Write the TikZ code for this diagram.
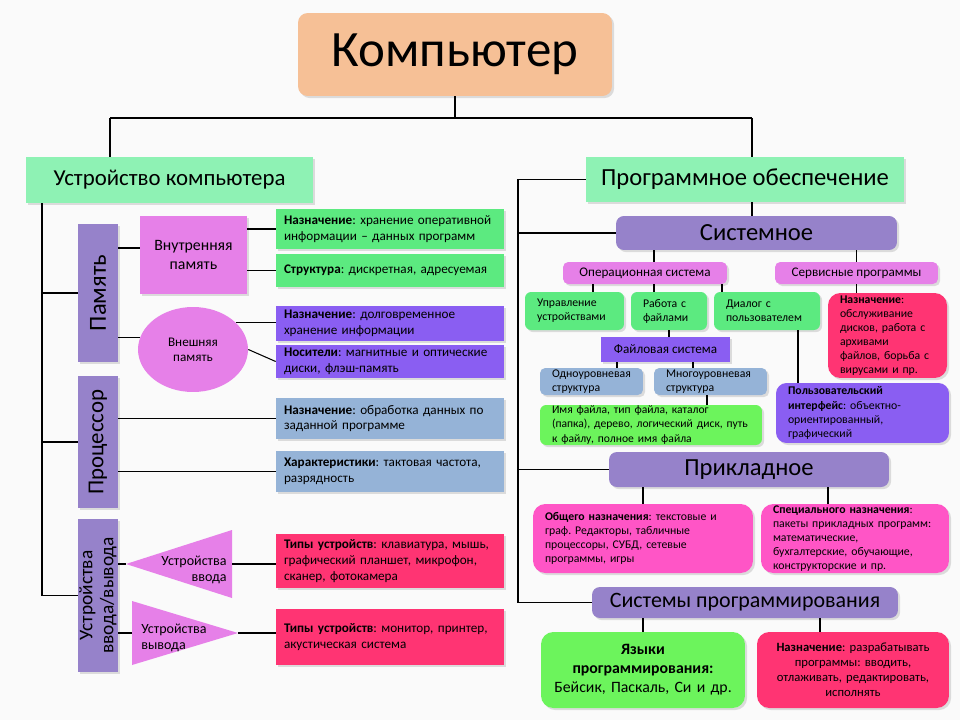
\documentclass[tikz,border=0pt]{standalone}
\usepackage{fontspec}
\setmainfont{Carlito}
\usetikzlibrary{shapes.geometric,shadows}
\frenchspacing

\definecolor{paper}{RGB}{250,250,250}
\definecolor{peach}{RGB}{246,192,150}
\definecolor{mint}{RGB}{142,242,180}
\definecolor{lilac}{RGB}{150,130,202}
\definecolor{orchid}{RGB}{230,128,232}
\definecolor{leaf}{RGB}{92,234,128}
\definecolor{lime}{RGB}{108,244,92}
\definecolor{violet}{RGB}{138,94,242}
\definecolor{steel}{RGB}{149,179,215}
\definecolor{crimson}{RGB}{255,52,115}
\definecolor{rose}{RGB}{255,85,198}

\begin{document}
\begin{tikzpicture}[
    x=0.02cm, y=-0.02cm,
    boxshadow/.style={drop shadow={shadow xshift=1.2pt, shadow yshift=-1.2pt, opacity=0.25}},
    title/.style={boxshadow, fill=#1, inner sep=0pt, align=center},
    pillar/.style={boxshadow, fill=lilac, rotate=90, minimum height=0.8cm,
        inner sep=0pt, align=center},
    note/.style={boxshadow, fill=#1, inner xsep=0.16cm, inner ysep=0pt, align=left,
        font=\fontsize{7.5}{9}\selectfont},
    card/.style={boxshadow, fill=#1, inner xsep=0.24cm, inner ysep=0pt, align=left,
        font=\fontsize{6.7}{8}\selectfont},
    link/.style={draw=black, line width=0.6pt},
]

\fill[paper] (0,0) rectangle (960,720);

% ── Root and the two main branches ───────────────────────────
\node[title=peach, rounded corners=5.5pt, minimum width=6.28cm, minimum height=1.66cm,
      font=\fontsize{29}{30}\selectfont] (komp) at (455,54.5) {Компьютер};
\node[title=mint, minimum width=5.74cm, minimum height=0.92cm,
      font=\fontsize{13}{14}\selectfont] (hw) at (169.5,180) {Устройство компьютера};
\node[title=mint, minimum width=6.36cm, minimum height=0.9cm,
      font=\fontsize{14}{15}\selectfont] (sw) at (745,179.5) {Программное обеспечение};

\coordinate (jL) at (110,118);
\coordinate (jR) at (752,118);
\draw[link] (komp.south) -- (komp.south |- jL);
\draw[link] (jL) -- (jR);
\draw[link] (jL) -- (jL |- hw.north);
\draw[link] (jR) -- (jR |- sw.north);

% ── Hardware pillars ─────────────────────────────────────────
\node[pillar, minimum width=2.76cm, font=\fontsize{14}{15}\selectfont] (pam) at (98,293) {Память};
\node[pillar, minimum width=2.64cm, font=\fontsize{13}{14}\selectfont] (proc) at (98,442) {Процессор};
\node[pillar, minimum width=3.06cm, font=\fontsize{11}{12}\selectfont] (io) at (98,595.5) {Устройства\\ввода/вывода};

\coordinate (hwBus) at (42,203);
\draw[link] (hwBus) |- (io.north);
\draw[link] (hwBus |- pam.north) -- (pam.north);
\draw[link] (hwBus |- proc.north) -- (proc.north);

% ── Memory ───────────────────────────────────────────────────
\node[title=orchid, minimum width=2.14cm, minimum height=1.56cm,
      font=\fontsize{9}{10.8}\selectfont] (vnut) at (193.5,255) {Внутренняя\\память};
\node[ellipse, fill=orchid, minimum width=2.2cm, minimum height=1.7cm, inner sep=0pt,
      align=center, font=\fontsize{7.5}{8.5}\selectfont] (vnesh) at (193,349.5) {Внешняя\\память};

\node[note=leaf, text width=4.24cm, minimum height=0.8cm] (g1) at (390,229)
    {\textbf{Назначение}: хранение оперативной\\информации – данных программ};
\node[note=leaf, text width=4.24cm, minimum height=0.66cm] (s1) at (390,270.5)
    {\textbf{Структура}: дискретная, адресуемая};
\node[note=violet, text width=4.24cm, minimum height=0.7cm] (v1) at (390,323.5)
    {\textbf{Назначение}: долговременное\\хранение информации};
\node[note=violet, text width=4.24cm, minimum height=0.66cm] (n1) at (390,361.5)
    {\textbf{Носители}: магнитные и оптические\\диски, флэш-память};

\draw[link] ([yshift=0.14cm]vnut.west) -- ([yshift=0.14cm]vnut.west -| pam.south);
\draw[link] (vnesh.167) -- (vnesh.167 -| pam.south);
\draw[link] (g1.west) -- (g1.west -| vnut.east);
\draw[link] (s1.west) -- (s1.west -| vnut.east);
\draw[link] (vnesh.32) -- (vnesh.32 -| v1.west);
\draw[link] (vnesh.east) -- (n1.west);

% ── Processor ────────────────────────────────────────────────
\node[note=steel, text width=4.24cm, minimum height=0.82cm] (b1) at (390,418.5)
    {\textbf{Назначение}: обработка данных по\\заданной программе};
\node[note=steel, text width=4.24cm, minimum height=0.82cm] (b2) at (390,471.5)
    {\textbf{Характеристики}: тактовая частота,\\разрядность};

\draw[link] (b1.west) -- (b1.west -| proc.south);
\draw[link] (b2.west) -- (b2.west -| proc.south);

% ── Input / output ───────────────────────────────────────────
\coordinate (inTip) at (126,564);
\coordinate (inTop) at (232,530);
\coordinate (inBot) at (232,598);
\fill[orchid] (inTip) -- (inTop) -- (inBot) -- cycle;
\node[anchor=east, align=right, inner sep=0pt, font=\fontsize{8}{9}\selectfont] (inTxt) at (227,570) {Устройства\\ввода};

\coordinate (outTip) at (238,633);
\coordinate (outTop) at (132,601);
\coordinate (outBot) at (132,665);
\fill[orchid] (outTop) -- (outTip) -- (outBot) -- cycle;
\node[anchor=west, align=left, inner sep=0pt, font=\fontsize{8}{9}\selectfont] (outTxt) at (141,638) {Устройства\\вывода};

\node[note=crimson, text width=4.24cm, minimum height=1.08cm] (r1) at (390,561)
    {\textbf{Типы устройств}: клавиатура, мышь,\\графический планшет, микрофон,\\сканер, фотокамера};
\node[note=crimson, text width=4.24cm, minimum height=1.12cm] (r2) at (390,637)
    {\textbf{Типы устройств}: монитор, принтер,\\акустическая система};

\draw[link] (inTip -| io.south) -- (inTip);
\draw[link] (inTip -| inTop) -- (inTip -| r1.west);
\draw[link] (outTip -| io.south) -- (outTip -| outTop);
\draw[link] (outTip) -- (outTip -| r2.west);

% ── Software: system ─────────────────────────────────────────
\node[title=lilac, rounded corners=4.5pt, minimum width=5.62cm, minimum height=0.68cm,
      font=\fontsize{14}{15}\selectfont] (sys) at (756.5,233) {Системное};
\node[title=orchid, rounded corners=3pt, minimum width=3.28cm, minimum height=0.44cm,
      font=\fontsize{7.5}{8}\selectfont] (os) at (645,273) {Операционная система};
\node[title=orchid, rounded corners=3pt, minimum width=3.26cm, minimum height=0.44cm,
      font=\fontsize{7.5}{8}\selectfont] (serv) at (856.5,273) {Сервисные программы};

\node[card=leaf, rounded corners=3.5pt, text width=1.5cm, minimum height=0.76cm] (upr) at (574.5,311) {Управление\\устройствами};
\node[card=leaf, rounded corners=3.5pt, text width=1.04cm, minimum height=0.76cm] (rab) at (669,311) {Работа с\\файлами};
\node[card=leaf, rounded corners=3.5pt, text width=1.64cm, minimum height=0.76cm] (dia) at (767,311) {Диалог с\\пользователем};
\node[card=crimson, rounded corners=7pt, text width=1.9cm, minimum height=1.7cm] (servN) at (887.5,335.5)
    {\textbf{Назначение}:\\обслуживание\\дисков, работа с\\архивами\\файлов, борьба с\\вирусами и пр.};

\node[title=violet, minimum width=2.58cm, minimum height=0.5cm,
      font=\fontsize{7.5}{8}\selectfont] (fs) at (665.5,349.5) {Файловая система};
\node[card=steel, rounded corners=3pt, text width=1.58cm, minimum height=0.54cm] (one) at (591.5,381.5) {Одноуровневая\\структура};
\node[card=steel, rounded corners=3pt, text width=1.78cm, minimum height=0.54cm] (multi) at (710.5,381.5) {Многоуровневая\\структура};
\node[card=lime, rounded corners=3.5pt, text width=3.96cm, minimum height=0.8cm,
      font=\fontsize{6.6}{8}\selectfont] (names) at (651,425)
    {Имя файла, тип файла, каталог\\(папка), дерево, логический диск, путь\\к файлу, полное имя файла};
\node[card=violet, rounded corners=6pt, text width=2.98cm, minimum height=1.2cm] (ui) at (862.5,413)
    {\textbf{Пользовательский}\\\textbf{интерфейс}: объектно-\\ориентированный,\\графический};

% ── Software: applied and programming systems ────────────────
\node[title=lilac, rounded corners=4.5pt, minimum width=5.6cm, minimum height=0.7cm,
      font=\fontsize{14}{15}\selectfont] (appl) at (749,469.5) {Прикладное};
\node[card=rose, rounded corners=7pt, text width=3.92cm, minimum height=1.38cm] (gen) at (643,538.5)
    {\textbf{Общего назначения}: текстовые и\\граф. Редакторы, табличные\\процессоры, СУБД, сетевые\\программы, игры};
\node[card=rose, rounded corners=7pt, text width=3.28cm, minimum height=1.38cm] (spec) at (855,538.5)
    {\textbf{Специального назначения}:\\пакеты прикладных программ:\\математические,\\бухгалтерские, обучающие,\\конструкторские и пр.};

\node[title=lilac, rounded corners=4.5pt, minimum width=6.12cm, minimum height=0.62cm,
      font=\fontsize{12.5}{13}\selectfont] (prsys) at (745,602.5) {Системы программирования};
\node[card=lime, align=center, rounded corners=7pt, text width=3.6cm, minimum height=1.52cm,
      font=\fontsize{9}{10.8}\selectfont] (lang) at (643,670)
    {\textbf{Языки}\\\textbf{программирования:}\\Бейсик, Паскаль, Си и др.};
\node[card=crimson, align=center, rounded corners=7pt, text width=3.36cm, minimum height=1.52cm,
      font=\fontsize{7.2}{8.5}\selectfont] (dev) at (853,670)
    {\textbf{Назначение}: разрабатывать\\программы: вводить,\\отлаживать, редактировать,\\исполнять};

% ── Software connectors ──────────────────────────────────────
\coordinate (swBus) at (518,179.5);
\draw[link] (sw.west) -- (swBus) |- (prsys.west);
\draw[link] (swBus |- sys.west) -- (sys.west);
\draw[link] (swBus |- appl.west) -- (appl.west);
\draw[link] (jR |- sw.south) -- (jR |- sys.north);
\draw[link] ([xshift=0.18cm]os.north) -- ([xshift=0.18cm]os.north |- sys.south);
\draw[link] (serv.north) -- (serv.north |- sys.south);
\draw[link] ([xshift=0.37cm]upr.north) -- ([xshift=0.37cm]upr.north |- os.south);
\draw[link] ([xshift=-0.3cm]rab.north) -- ([xshift=-0.3cm]rab.north |- os.south);
\draw[link] ([xshift=-0.9cm]dia.north) -- ([xshift=-0.9cm]dia.north |- os.south);
\draw[link] (serv.south) -- (serv.south |- servN.north);
\draw[link] (rab.south) -- (rab.south |- fs.north);
\draw[link] ([xshift=0.51cm]one.north) -- ([xshift=0.51cm]one.north |- fs.south);
\draw[link] ([xshift=-0.35cm]multi.north) -- ([xshift=-0.35cm]multi.north |- fs.south);
\draw[link] ([xshift=-0.07cm]multi.south) -- ([xshift=-0.07cm]multi.south |- names.north);
\draw[link] ([xshift=0.62cm]dia.south) -- ([xshift=0.62cm]dia.south |- ui.north);
\draw[link] (gen.north) -- (gen.north |- appl.south);
\draw[link] ([xshift=-0.54cm]spec.north) -- ([xshift=-0.54cm]spec.north |- appl.south);
\draw[link] (lang.north) -- (lang.north |- prsys.south);
\draw[link] ([xshift=-0.66cm]dev.north) -- ([xshift=-0.66cm]dev.north |- prsys.south);

\end{tikzpicture}
\end{document}
